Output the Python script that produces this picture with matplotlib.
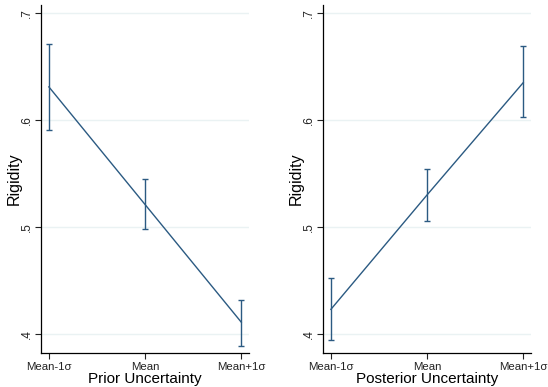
import matplotlib
matplotlib.use("Agg")
import matplotlib.pyplot as plt

categories = ["Mean-1\u03c3", "Mean", "Mean+1\u03c3"]
yticks = [0.4, 0.5, 0.6, 0.7]
ytick_labels = [".4", ".5", ".6", ".7"]

prior_mean = [0.631, 0.521, 0.411]
prior_lo = [0.591, 0.498, 0.389]
prior_hi = [0.671, 0.545, 0.432]

post_mean = [0.423, 0.530, 0.635]
post_lo = [0.394, 0.506, 0.603]
post_hi = [0.452, 0.554, 0.669]

plt.rcParams['font.family'] = ['Liberation Sans', 'DejaVu Sans']

fig = plt.figure(figsize=(5.48, 3.87), dpi=100)
color = '#2b5a82'

panels = [
    ([0.0757, 0.0879, 0.3786, 0.899], prior_mean, prior_lo, prior_hi, "Prior Uncertainty"),
    ([0.5903, 0.0879, 0.3786, 0.899], post_mean, post_lo, post_hi, "Posterior Uncertainty"),
]

for rect, m, lo, hi, xlabel in panels:
    ax = fig.add_axes(rect)
    x = list(range(len(categories)))
    yerr = [[mi - l for mi, l in zip(m, lo)], [h - mi for mi, h in zip(m, hi)]]
    ax.plot(x, m, color=color, lw=1.0, zorder=3)
    ax.errorbar(x, m, yerr=yerr, fmt='none', ecolor=color, elinewidth=1.0,
                capsize=2.5, capthick=1.0, zorder=3)
    ax.set_xlim(-0.077, 2.08)
    ax.set_ylim(0.3822, 0.7075)
    ax.set_yticks(yticks)
    ax.set_yticklabels(ytick_labels, rotation=90, va='center', fontsize=8.5)
    ax.set_xticks(x)
    ax.set_xticklabels(categories, fontsize=8.2)
    for yv in yticks:
        ax.axhline(yv, color='#eaf2f3', lw=1.0, zorder=1)
    ax.spines['top'].set_visible(False)
    ax.spines['right'].set_visible(False)
    ax.spines['left'].set_linewidth(0.9)
    ax.spines['bottom'].set_linewidth(0.9)
    ax.tick_params(length=4.5, width=0.8, colors='#222222')
    ax.tick_params(axis='y', pad=2)
    ax.tick_params(axis='x', pad=2)
    ax.set_ylabel("Rigidity", fontsize=11.5)
    ax.yaxis.set_label_coords(-0.095, 0.5)
    ax.set_xlabel(xlabel, fontsize=11, labelpad=0)

fig.savefig("out.png", dpi=100)
